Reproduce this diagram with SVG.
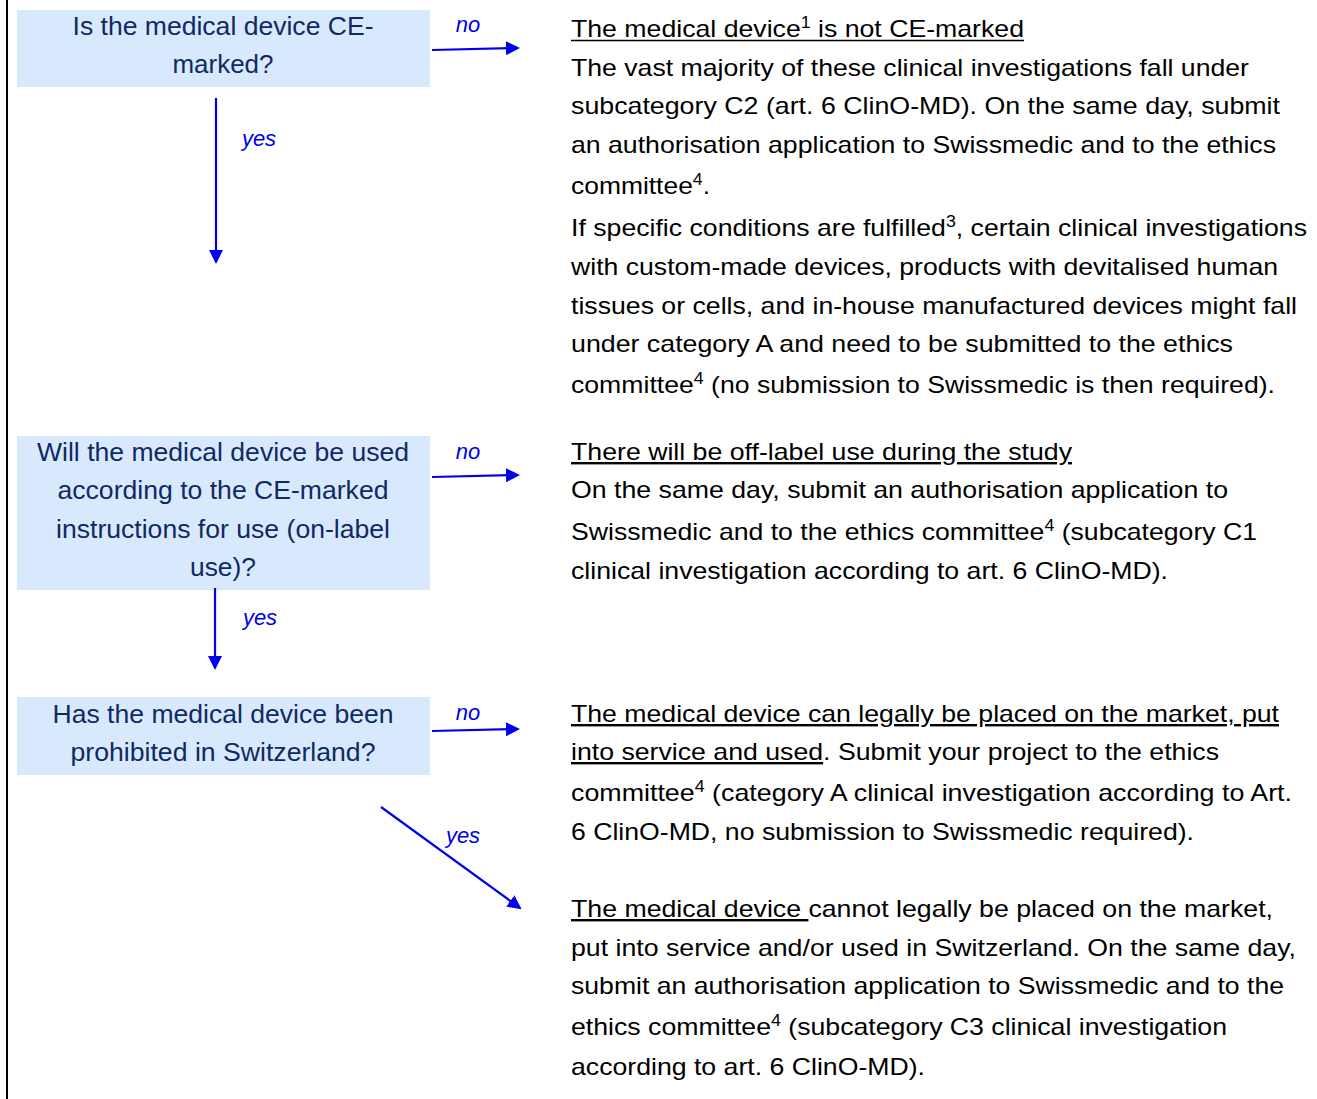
<svg xmlns="http://www.w3.org/2000/svg" width="1317" height="1099" viewBox="0 0 1317 1099">
<defs>
<style>
.box{fill:#d9e9fd}
.q{font-family:"Liberation Sans",Arial,sans-serif;font-size:26px;fill:#0f2a63;text-anchor:middle}
.t{font-family:"Liberation Sans",Arial,sans-serif;font-size:24px;fill:#000}
.u{text-decoration:underline}
.sup{font-size:16px}
.lbl{font-family:"Liberation Sans",Arial,sans-serif;font-size:22px;font-style:italic;fill:#0000ee}
.c{stroke:#0000ee;stroke-width:2.2;fill:none;marker-end:url(#ah)}
</style>
<marker id="ah" viewBox="0 0 14 14" refX="12" refY="7" markerWidth="14" markerHeight="14" markerUnits="userSpaceOnUse" orient="auto">
<path d="M0,0 L14,7 L0,14 z" fill="#0000ee"/>
</marker>
</defs>
<rect x="0" y="0" width="1317" height="1099" fill="#fff"/>
<line x1="7" y1="0" x2="7" y2="1099" stroke="#000" stroke-width="2"/>

<g id="q1">
<rect class="box" x="17" y="10" width="413" height="77"/>
<text class="q" x="223" y="35" textLength="301" lengthAdjust="spacingAndGlyphs">Is the medical device CE-</text>
<text class="q" x="223" y="73" textLength="101" lengthAdjust="spacingAndGlyphs">marked?</text>
</g>
<g id="q2">
<rect class="box" x="17" y="436" width="413" height="154"/>
<text class="q" x="223" y="461" textLength="372" lengthAdjust="spacingAndGlyphs">Will the medical device be used</text>
<text class="q" x="223" y="499" textLength="331" lengthAdjust="spacingAndGlyphs">according to the CE-marked</text>
<text class="q" x="223" y="538" textLength="334" lengthAdjust="spacingAndGlyphs">instructions for use (on-label</text>
<text class="q" x="223" y="576" textLength="66" lengthAdjust="spacingAndGlyphs">use)?</text>
</g>
<g id="q3">
<rect class="box" x="17" y="697" width="413" height="78"/>
<text class="q" x="223" y="723" textLength="341" lengthAdjust="spacingAndGlyphs">Has the medical device been</text>
<text class="q" x="223" y="761" textLength="305" lengthAdjust="spacingAndGlyphs">prohibited in Switzerland?</text>
</g>

<g id="r1">
<text class="t" x="571" y="37" textLength="453" lengthAdjust="spacingAndGlyphs">The medical device<tspan class="sup" baseline-shift="9">1</tspan> is not CE-marked</text>
<line x1="571" y1="40.5" x2="1024" y2="40.5" stroke="#000" stroke-width="1.6"/>
<text class="t" x="571" y="76" textLength="678" lengthAdjust="spacingAndGlyphs">The vast majority of these clinical investigations fall under</text>
<text class="t" x="571" y="114" textLength="709" lengthAdjust="spacingAndGlyphs">subcategory C2 (art. 6 ClinO-MD). On the same day, submit</text>
<text class="t" x="571" y="153" textLength="705" lengthAdjust="spacingAndGlyphs">an authorisation application to Swissmedic and to the ethics</text>
<text class="t" x="571" y="194" textLength="139" lengthAdjust="spacingAndGlyphs">committee<tspan class="sup" baseline-shift="9">4</tspan>.</text>
<text class="t" x="571" y="236" textLength="736" lengthAdjust="spacingAndGlyphs">If specific conditions are fulfilled<tspan class="sup" baseline-shift="9">3</tspan>, certain clinical investigations</text>
<text class="t" x="571" y="275" textLength="707" lengthAdjust="spacingAndGlyphs">with custom-made devices, products with devitalised human</text>
<text class="t" x="571" y="314" textLength="726" lengthAdjust="spacingAndGlyphs">tissues or cells, and in-house manufactured devices might fall</text>
<text class="t" x="571" y="352" textLength="662" lengthAdjust="spacingAndGlyphs">under category A and need to be submitted to the ethics</text>
<text class="t" x="571" y="393" textLength="704" lengthAdjust="spacingAndGlyphs">committee<tspan class="sup" baseline-shift="9">4</tspan> (no submission to Swissmedic is then required).</text>
</g>
<g id="r2">
<text class="t" x="571" y="460" textLength="501" lengthAdjust="spacingAndGlyphs"><tspan class="u">There will be off-label use during the study</tspan></text>
<text class="t" x="571" y="498" textLength="657" lengthAdjust="spacingAndGlyphs">On the same day, submit an authorisation application to</text>
<text class="t" x="571" y="540" textLength="686" lengthAdjust="spacingAndGlyphs">Swissmedic and to the ethics committee<tspan class="sup" baseline-shift="9">4</tspan> (subcategory C1</text>
<text class="t" x="571" y="579" textLength="597" lengthAdjust="spacingAndGlyphs">clinical investigation according to art. 6 ClinO-MD).</text>
</g>
<g id="r3">
<text class="t" x="571" y="722" textLength="708" lengthAdjust="spacingAndGlyphs"><tspan class="u">The medical device can legally be placed on the market, put</tspan></text>
<text class="t" x="571" y="760" textLength="648" lengthAdjust="spacingAndGlyphs"><tspan class="u">into service and used</tspan>. Submit your project to the ethics</text>
<text class="t" x="571" y="801" textLength="721" lengthAdjust="spacingAndGlyphs">committee<tspan class="sup" baseline-shift="9">4</tspan> (category A clinical investigation according to Art.</text>
<text class="t" x="571" y="840" textLength="623" lengthAdjust="spacingAndGlyphs">6 ClinO-MD, no submission to Swissmedic required).</text>
</g>
<g id="r4">
<text class="t" x="571" y="917" textLength="702" lengthAdjust="spacingAndGlyphs"><tspan class="u">The medical device </tspan>cannot legally be placed on the market,</text>
<text class="t" x="571" y="956" textLength="725" lengthAdjust="spacingAndGlyphs">put into service and/or used in Switzerland. On the same day,</text>
<text class="t" x="571" y="994" textLength="713" lengthAdjust="spacingAndGlyphs">submit an authorisation application to Swissmedic and to the</text>
<text class="t" x="571" y="1035" textLength="656" lengthAdjust="spacingAndGlyphs">ethics committee<tspan class="sup" baseline-shift="9">4</tspan> (subcategory C3 clinical investigation</text>
<text class="t" x="571" y="1075" textLength="354" lengthAdjust="spacingAndGlyphs">according to art. 6 ClinO-MD).</text>
</g>

<g id="connectors">
<line class="c" x1="432" y1="50" x2="518" y2="48"/>
<line class="c" x1="216" y1="98" x2="216" y2="262"/>
<line class="c" x1="432" y1="477" x2="518" y2="475"/>
<line class="c" x1="215" y1="588" x2="215" y2="668"/>
<line class="c" x1="432" y1="731" x2="518" y2="729"/>
<line class="c" x1="381" y1="807" x2="520" y2="908"/>
<text class="lbl" x="468" y="32" text-anchor="middle">no</text>
<text class="lbl" x="259" y="146" text-anchor="middle">yes</text>
<text class="lbl" x="468" y="459" text-anchor="middle">no</text>
<text class="lbl" x="260" y="625" text-anchor="middle">yes</text>
<text class="lbl" x="468" y="720" text-anchor="middle">no</text>
<text class="lbl" x="463" y="843" text-anchor="middle">yes</text>
</g>
</svg>
